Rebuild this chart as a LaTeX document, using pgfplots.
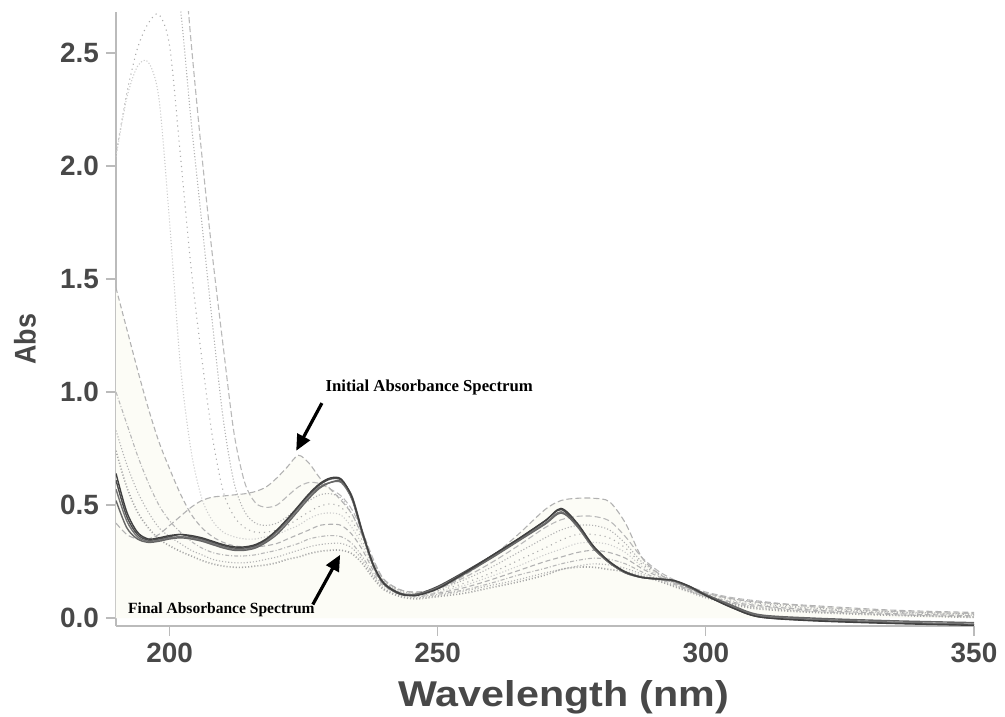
\documentclass[border=0pt]{standalone}
\usepackage{pgfplots}
\pgfplotsset{compat=1.18}
\usepackage{pgfplotstable}
\usepackage{fontspec}
\setmainfont{Liberation Sans}
\newfontfamily\annfont{Liberation Serif}
\usetikzlibrary{arrows.meta}

\definecolor{axisgray}{HTML}{BBBBBB}
\definecolor{labgray}{HTML}{484848}
\definecolor{cream}{HTML}{FCFCF6}

% Absorbance spectra recorded over time (wavelength in nm)
\pgfplotstableread{
lam ini dka dkb dkc dkd ma mb mc md me mf mg fin
190 0.42 0.61 0.57 0.52 0.64 3.6 3.3 2.05 2.04 1.46 1.00 0.83 0.74
192 0.37 0.45 0.43 0.40 0.47 3.7 3.4 2.32 2.30 1.28 0.86 0.68 0.58
194 0.35 0.37 0.36 0.35 0.38 3.75 3.45 2.52 2.44 1.10 0.72 0.56 0.47
196 0.35 0.345 0.34 0.335 0.35 3.75 3.4 2.63 2.46 0.93 0.60 0.47 0.40
198 0.37 0.35 0.345 0.34 0.355 3.7 3.25 2.67 2.30 0.78 0.50 0.40 0.35
200 0.41 0.36 0.355 0.35 0.365 3.55 3.0 2.53 1.75 0.66 0.43 0.36 0.32
202 0.45 0.37 0.36 0.355 0.37 3.1 2.7 2.05 1.12 0.55 0.38 0.33 0.295
204 0.49 0.36 0.355 0.35 0.365 2.55 2.2 1.55 0.74 0.46 0.34 0.30 0.275
206 0.52 0.35 0.345 0.34 0.355 2.05 1.75 1.15 0.53 0.40 0.31 0.28 0.255
208 0.535 0.335 0.33 0.325 0.34 1.6 1.30 0.80 0.43 0.36 0.29 0.26 0.24
210 0.54 0.32 0.315 0.31 0.325 1.2 0.88 0.56 0.38 0.335 0.28 0.25 0.23
212 0.545 0.31 0.305 0.30 0.315 0.82 0.60 0.45 0.36 0.32 0.275 0.245 0.225
214 0.55 0.31 0.305 0.30 0.315 0.60 0.47 0.40 0.35 0.315 0.275 0.245 0.225
216 0.56 0.32 0.315 0.31 0.325 0.51 0.42 0.38 0.35 0.315 0.28 0.25 0.23
218 0.58 0.345 0.34 0.335 0.35 0.49 0.41 0.38 0.36 0.32 0.29 0.26 0.235
220 0.62 0.385 0.38 0.37 0.39 0.50 0.42 0.39 0.37 0.33 0.30 0.27 0.245
222 0.67 0.435 0.43 0.42 0.44 0.54 0.45 0.41 0.39 0.35 0.315 0.285 0.26
224 0.72 0.49 0.485 0.475 0.495 0.58 0.49 0.44 0.41 0.37 0.33 0.30 0.27
226 0.685 0.545 0.54 0.53 0.55 0.60 0.52 0.47 0.44 0.39 0.35 0.315 0.285
228 0.62 0.59 0.58 0.575 0.595 0.595 0.545 0.495 0.46 0.41 0.36 0.325 0.295
230 0.57 0.615 0.60 0.60 0.62 0.57 0.55 0.505 0.465 0.415 0.365 0.33 0.30
232 0.52 0.61 0.60 0.605 0.615 0.54 0.53 0.49 0.455 0.41 0.36 0.33 0.30
234 0.46 0.53 0.525 0.54 0.535 0.48 0.46 0.43 0.40 0.37 0.33 0.31 0.285
236 0.36 0.37 0.37 0.38 0.375 0.38 0.36 0.34 0.32 0.30 0.27 0.255 0.24
238 0.25 0.23 0.23 0.235 0.235 0.26 0.25 0.235 0.225 0.21 0.195 0.185 0.175
240 0.17 0.15 0.15 0.155 0.152 0.17 0.165 0.16 0.155 0.145 0.14 0.13 0.125
243 0.125 0.105 0.108 0.11 0.108 0.125 0.12 0.115 0.115 0.11 0.105 0.10 0.095
246 0.115 0.105 0.105 0.105 0.10 0.115 0.11 0.105 0.105 0.10 0.095 0.09 0.085
250 0.13 0.14 0.135 0.13 0.13 0.13 0.125 0.12 0.115 0.11 0.105 0.10 0.095
255 0.19 0.205 0.20 0.195 0.20 0.18 0.17 0.155 0.145 0.135 0.125 0.12 0.11
260 0.27 0.275 0.27 0.265 0.275 0.245 0.225 0.20 0.185 0.17 0.155 0.145 0.135
265 0.37 0.35 0.345 0.34 0.35 0.32 0.29 0.255 0.23 0.21 0.19 0.17 0.16
270 0.48 0.43 0.42 0.415 0.43 0.40 0.355 0.31 0.28 0.25 0.22 0.20 0.19
273 0.52 0.48 0.47 0.465 0.485 0.435 0.39 0.345 0.305 0.27 0.24 0.215 0.215
276 0.53 0.41 0.405 0.41 0.42 0.45 0.41 0.37 0.33 0.29 0.255 0.23 0.225
279 0.53 0.31 0.31 0.315 0.32 0.45 0.41 0.37 0.335 0.30 0.265 0.24 0.225
282 0.515 0.245 0.245 0.25 0.25 0.43 0.39 0.355 0.325 0.29 0.26 0.235 0.215
285 0.42 0.20 0.20 0.205 0.203 0.36 0.33 0.31 0.29 0.265 0.24 0.22 0.205
288 0.27 0.18 0.18 0.182 0.18 0.27 0.25 0.24 0.23 0.22 0.205 0.195 0.185
291 0.20 0.172 0.172 0.175 0.173 0.21 0.20 0.195 0.19 0.185 0.175 0.17 0.165
294 0.16 0.165 0.163 0.165 0.167 0.17 0.165 0.16 0.155 0.155 0.15 0.145 0.14
297 0.13 0.135 0.135 0.14 0.14 0.14 0.135 0.13 0.125 0.125 0.12 0.12 0.115
300 0.11 0.10 0.10 0.105 0.10 0.115 0.11 0.105 0.10 0.10 0.095 0.095 0.09
305 0.085 0.045 0.05 0.055 0.045 0.09 0.085 0.08 0.075 0.07 0.065 0.065 0.06
310 0.07 0.005 0.01 0.015 0.005 0.075 0.07 0.065 0.06 0.055 0.05 0.045 0.04
320 0.055 -0.01 -0.005 0.0 -0.012 0.05 0.045 0.04 0.038 0.035 0.03 0.028 0.025
335 0.035 -0.022 -0.018 -0.012 -0.024 0.03 0.028 0.025 0.022 0.02 0.015 0.015 0.012
350 0.025 -0.03 -0.027 -0.02 -0.032 0.02 0.018 0.015 0.012 0.01 0.005 0.005 0.003
}\spectra

\begin{document}
\begin{tikzpicture}
\begin{axis}[
  at={(0,0)}, anchor=south west,
  width=429bp, height=307bp, scale only axis,
  xmin=190, xmax=350, ymin=-0.035, ymax=2.681,
  axis x line*=bottom, axis y line*=left,
  axis line style={axisgray, line width=0.6bp},
  xtick={200,250,300,350},
  ytick={0,0.5,1,1.5,2,2.5},
  tick align=outside, major tick length=5bp,
  tick style={axisgray, line width=0.6bp},
  /pgf/number format/assume math mode=true,
  yticklabel style={/pgf/number format/.cd, fixed, fixed zerofill, precision=1},
  xticklabel style={/pgf/number format/.cd, fixed, precision=0},
  ticklabel style={font=\fontsize{14}{14}\selectfont\bfseries, text=labgray},
  xlabel={\scalebox{1.15}[1]{Wavelength (nm)}}, ylabel={\scalebox{0.9}[1]{Abs}},
  xlabel style={font=\fontsize{18}{18}\selectfont\bfseries, text=labgray,
    at={(axis description cs:0.522,-0.116)}, anchor=center},
  ylabel style={font=\fontsize{15}{15}\selectfont\bfseries, text=labgray,
    at={(axis description cs:-0.106,0.467)}, anchor=center},
  every axis plot/.append style={smooth, line width=0.55bp},
]
% pale background under the spectra
\addplot[draw=none, fill=cream] table[x=lam, y=me] {\spectra} \closedcycle;
\addplot[draw=none, fill=cream] table[x=lam, y=ini] {\spectra} \closedcycle;

% early scans
\addplot[gray!55, dash pattern=on 3bp off 1.5bp] table[x=lam, y=ma] {\spectra};
\addplot[gray!60, densely dotted] table[x=lam, y=mb] {\spectra};
\addplot[gray!65, dotted] table[x=lam, y=mc] {\spectra};
\addplot[gray!40, densely dotted] table[x=lam, y=md] {\spectra};
\addplot[gray!60, dash pattern=on 2.5bp off 1.5bp] table[x=lam, y=me] {\spectra};
\addplot[gray!55, dash pattern=on 2bp off 1bp on 0.5bp off 1bp] table[x=lam, y=mf] {\spectra};
\addplot[gray!60, densely dotted] table[x=lam, y=mg] {\spectra};
\addplot[gray!70, densely dotted, line width=0.8bp] table[x=lam, y=fin] {\spectra};

% initial spectrum
\addplot[gray!60, dash pattern=on 3bp off 1.5bp] table[x=lam, y=ini] {\spectra};

% converged scans
\addplot[black!70, line width=0.7bp] table[x=lam, y=dka] {\spectra};
\addplot[black!55, line width=0.7bp] table[x=lam, y=dkb] {\spectra};
\addplot[black!60, line width=0.7bp] table[x=lam, y=dkc] {\spectra};
\addplot[black!75, line width=0.7bp] table[x=lam, y=dkd] {\spectra};

% annotations
\draw[-{Triangle[length=8bp,width=7bp]}, line width=1.6bp]
  (axis cs:228.4,0.951) -- (axis cs:223.6,0.74);
\draw[-{Triangle[length=8bp,width=7bp]}, line width=1.6bp]
  (axis cs:226.7,0.06) -- (axis cs:231.8,0.28);
\node[anchor=west, inner sep=0pt, font=\annfont\bfseries\fontsize{8.4}{9}\selectfont]
  at (axis cs:229,1.02) {Initial Absorbance Spectrum};
\node[anchor=west, inner sep=0pt, font=\annfont\bfseries\fontsize{7.8}{9}\selectfont]
  at (axis cs:192.2,0.035) {Final Absorbance Spectrum};
\end{axis}
\pgfresetboundingbox
\path (-58bp,-45.5bp) rectangle (444.5bp,313bp);
\end{tikzpicture}
\end{document}
